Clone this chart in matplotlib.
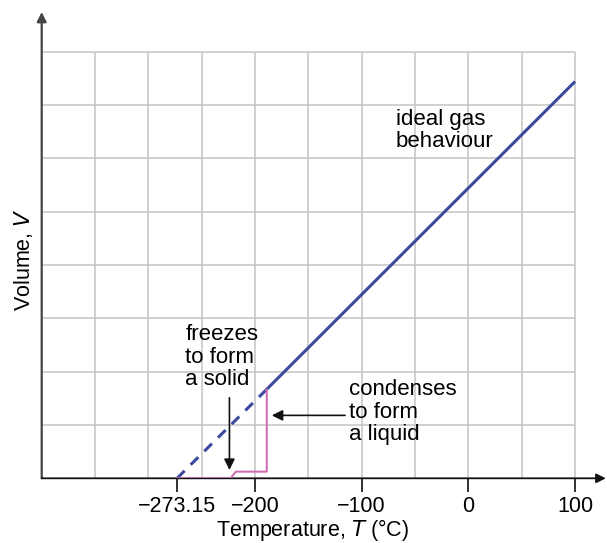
import numpy as np
import matplotlib.pyplot as plt

plt.rcParams['font.family'] = ['Liberation Sans', 'DejaVu Sans']

# ideal gas line: extrapolated to absolute zero
gas_T = [-273.15, -190, 100]
gas_V = [0, 1.65, 7.44]
# real substance: solid -> liquid -> gas
real_T = [-273.15, -223, -218, -189, -189]
real_V = [0, 0, 0.125, 0.125, 1.66]

tick_pos = [-273.15, -200, -100, 0, 100]
tick_lab = ['\u2212273.15', '\u2212200', '\u2212100', '0', '100']

W, H = 607, 543
fig = plt.figure(figsize=(W / 100, H / 100), dpi=100)
x0, x1 = 41.7, 603
ytop, ybot = 12, 478.3
ax = fig.add_axes([x0 / W, (H - ybot) / H, (x1 - x0) / W, (ybot - ytop) / H])
ax.set_xlim(-400, -400 + (x1 - x0) / 1.0667)
ax.set_ylim(0, (ybot - ytop) / 53.33)

# grid box
gx = np.arange(-350, 101, 50)
gy = np.arange(1, 9)
ax.vlines(gx, 0, 8, color='#c4c4c4', lw=1.1, zorder=1)
ax.hlines(gy, -400, 100, color='#c4c4c4', lw=1.1, zorder=1)

for s in ax.spines.values():
    s.set_visible(False)
ax.set_yticks([])
ax.set_xticks(tick_pos)
ax.set_xticklabels(tick_lab, fontsize=15.5)
ax.tick_params(axis='x', direction='out', length=10, width=1.3, color='#222222', pad=3)

# axes with arrows
ax.annotate('', xy=(0, 1), xytext=(0, 0), xycoords='axes fraction',
            arrowprops=dict(arrowstyle='-|>', color='#444444', lw=1.6,
                            mutation_scale=14, shrinkA=0, shrinkB=0))
ax.annotate('', xy=(1.005, 0), xytext=(0, 0), xycoords='axes fraction',
            arrowprops=dict(arrowstyle='-|>', color='#111111', lw=1.3,
                            mutation_scale=14, shrinkA=0, shrinkB=0), annotation_clip=False)

blue = '#3b4a9c'
pink = '#cf6fb3'
ax.plot(gas_T[:2], gas_V[:2], color=blue, lw=2.2, ls=(0, (3.5, 2.8)), zorder=3)
ax.plot(gas_T[1:], gas_V[1:], color=blue, lw=2.2, zorder=3, solid_capstyle='butt')
ax.plot(real_T, real_V, color=pink, lw=1.5, zorder=4)

fs = 16
ax.text(-265.5, 2.27, 'freezes\nto form\na solid', fontsize=fs, ha='left', va='center',
        linespacing=1.1)
ax.annotate('', xy=(-224, 0.157), xytext=(-224, 1.51),
            arrowprops=dict(arrowstyle='-|>', color='#111111', lw=1.2,
                            mutation_scale=16, shrinkA=0, shrinkB=0))
ax.text(-112, 1.24, 'condenses\nto form\na liquid', fontsize=fs, ha='left', va='center',
        linespacing=1.1)
ax.annotate('', xy=(-184.3, 1.18), xytext=(-115.6, 1.18),
            arrowprops=dict(arrowstyle='-|>', color='#111111', lw=1.2,
                            mutation_scale=16, shrinkA=0, shrinkB=0))
ax.text(-68, 6.52, 'ideal gas\nbehaviour', fontsize=fs, ha='left', va='center',
        linespacing=1.1)

fig.text(312.5 / W, (H - 530) / H, 'Temperature, $\\it{T}$ (°C)', fontsize=15.5,
         ha='center', va='center')
fig.text(24 / W, (H - 260) / H, 'Volume, $\\it{V}$', fontsize=15.5, rotation=90,
         ha='center', va='center')

fig.savefig('out.png', dpi=100)
